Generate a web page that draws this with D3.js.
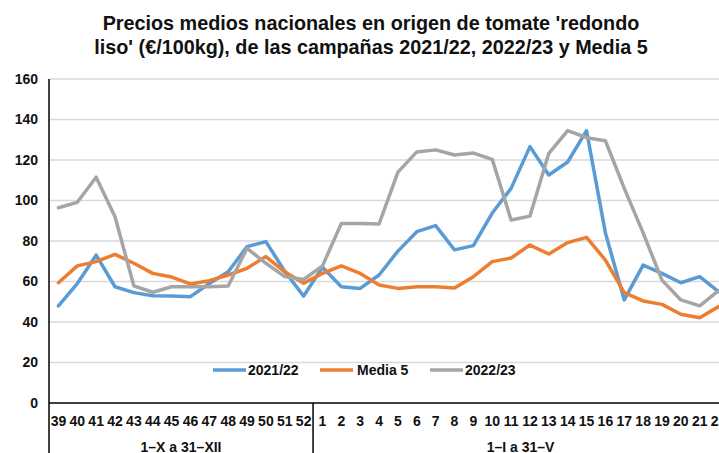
<!DOCTYPE html>
<html><head><meta charset="utf-8">
<script src="https://cdn.jsdelivr.net/npm/d3@7"></script>
<style>
body{margin:0;background:#fff;}
svg{display:block;font-family:"Liberation Sans",Arial,sans-serif;}
</style></head>
<body><svg id="c" width="719" height="453"></svg>
<script>
const weeks = ["39","40","41","42","43","44","45","46","47","48","49","50","51","52",
  "1","2","3","4","5","6","7","8","9","10","11","12","13","14","15","16","17","18","19","20","21","22"];
const groups = [{label:"1–X a 31–XII", from:0, to:14},{label:"1–I a 31–V", from:14, to:36}];
const s2122 = [48,59,73,57.4,54.5,53,52.8,52.5,59,64.8,77.2,79.7,65,52.8,
  67,57.4,56.6,63.2,75,84.6,87.6,75.6,77.7,93.8,106,126.6,112.6,119,134.5,84,50.9,68.1,64,59.4,62.4,55];
const media5 = [59.4,67.7,69.8,73.4,69,64,62.2,58.8,60.4,63.2,66.5,72.3,64.8,59.1,
  64,67.7,64,58.3,56.6,57.4,57.4,56.8,62.4,69.8,71.6,78,73.6,79.2,81.8,70.6,54.5,50.4,48.7,43.8,42.1,47.6];
const s2223 = [96.4,99.1,111.5,92,57.8,54.7,57.4,57.4,57.4,57.8,76.4,69,62.4,61,
  67.7,88.7,88.7,88.4,114,124,125,122.5,123.4,120.3,90.4,92.3,123.3,134.5,131,129.5,106,84,60.7,50.9,48,55.5];
const yTicks = [0,20,40,60,80,100,120,140,160];
const series = [
  {name:"2021/22", values:s2122, color:"#5B9BD5"},
  {name:"Media 5", values:media5, color:"#ED7D31"},
  {name:"2022/23", values:s2223, color:"#A5A5A5"}
];

const svg = d3.select("#c");
const x0 = 49, x1 = 728, yTop = 79, yBot = 403;
const x = d3.scaleBand().domain(d3.range(weeks.length)).range([x0, x1]).padding(0);
const y = d3.scaleLinear().domain([0,160]).range([yBot, yTop]);
const cx = i => x(i) + x.bandwidth()/2;

// title
svg.append("text").attr("x",371).attr("y",30).attr("text-anchor","middle")
  .attr("font-size","19.8px").attr("font-weight","bold").attr("fill","#111")
  .text("Precios medios nacionales en origen de tomate 'redondo");
svg.append("text").attr("x",371).attr("y",54).attr("text-anchor","middle")
  .attr("font-size","19.8px").attr("font-weight","bold").attr("fill","#111")
  .text("liso' (€/100kg), de las campañas 2021/22, 2022/23 y Media 5");

// gridlines
svg.append("g").selectAll("line").data(yTicks.filter(d=>d>0)).join("line")
  .attr("x1",x0).attr("x2",719).attr("y1",d=>y(d)).attr("y2",d=>y(d))
  .attr("stroke","#d9d9d9").attr("stroke-width",1.5);

// y axis labels
const yAxis = d3.axisLeft(y).tickValues(yTicks).tickSize(0).tickPadding(11);
const ya = svg.append("g").attr("transform",`translate(${x0},0)`).call(yAxis);
ya.select(".domain").remove();
ya.selectAll("text").attr("font-size","14px").attr("font-weight","bold").attr("fill","#111")
  .attr("font-family","Liberation Sans, Arial, sans-serif");

// legend
const leg = [{lx:213,tx:248},{lx:320,tx:357},{lx:430,tx:465}];
leg.forEach((l,i)=>{
  svg.append("line").attr("x1",l.lx).attr("x2",l.lx+33).attr("y1",370).attr("y2",370)
    .attr("stroke",series[i].color).attr("stroke-width",3.5);
  svg.append("text").attr("x",l.tx).attr("y",375).attr("font-size","14px").attr("font-weight","bold")
    .attr("fill","#111").text(series[i].name);
});

// lines
const line = d3.line().x((d,i)=>cx(i)).y(d=>y(d));
series.forEach(s=>{
  svg.append("path").datum(s.values).attr("d",line).attr("fill","none")
    .attr("stroke",s.color).attr("stroke-width",3.5).attr("stroke-linejoin","round").attr("stroke-linecap","round");
});

// axes lines
svg.append("line").attr("x1",x0).attr("x2",719).attr("y1",yBot).attr("y2",yBot).attr("stroke","#000").attr("stroke-width",1.5);
svg.append("line").attr("x1",x0).attr("x2",x0).attr("y1",yTop).attr("y2",453).attr("stroke","#000").attr("stroke-width",1.5);
svg.append("line").attr("x1",x(14)).attr("x2",x(14)).attr("y1",yBot).attr("y2",453).attr("stroke","#000").attr("stroke-width",1.5);

// x labels
const xAxis = d3.axisBottom(x).tickFormat(i=>weeks[i]).tickSize(0).tickPadding(13);
const xa = svg.append("g").attr("transform",`translate(0,${yBot})`).call(xAxis);
xa.select(".domain").remove();
xa.selectAll("text").attr("font-size","14px").attr("font-weight","bold").attr("fill","#111")
  .attr("font-family","Liberation Sans, Arial, sans-serif");

groups.forEach(g=>{
  svg.append("text").attr("x",(x(g.from)+ (g.to<weeks.length? x(g.to): x1))/2).attr("y",452)
    .attr("text-anchor","middle").attr("font-size","14px").attr("font-weight","bold").attr("fill","#111")
    .text(g.label);
});
</script></body></html>
